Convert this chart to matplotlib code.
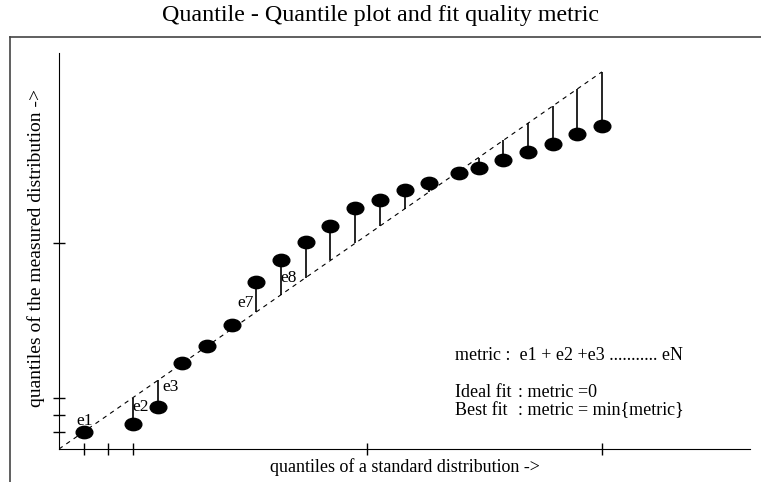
import matplotlib
matplotlib.use("Agg")
import matplotlib.pyplot as plt
from matplotlib.path import Path
from matplotlib.lines import Line2D

plt.rcParams["font.family"] = ["Liberation Serif", "DejaVu Serif"]

# quantiles of the standard distribution (x) and the measured one (y)
std_q = [1, 3, 4, 5, 6, 7, 8, 9, 10, 11, 12, 13, 14, 15, 16.2, 17, 18, 19, 20, 21, 22]
meas_q = [1.0, 1.46, 2.45, 5.0, 6.0, 7.25, 9.74, 11.03, 12.08, 13.01, 14.06, 14.53,
          15.11, 15.52, 16.1, 16.39, 16.86, 17.33, 17.79, 18.38, 18.84]

# error labels and where they sit
err_labels = ["e1", "e2", "e3", "e7", "e8"]
err_x = [1.05, 3.32, 4.54, 7.54, 9.32]
err_y = [1.63, 2.45, 3.62, 8.5, 10.0]

x_ticks = [1, 2, 3, 12.5, 22]
y_ticks = [1, 2, 3, 12]

fig = plt.figure(figsize=(7.61, 4.82), dpi=100)
ax = fig.add_axes([59 / 761, 33 / 482, 691 / 761, 396 / 482])

# ideal line y = x
ax.plot([0, 22], [0, 22], color="black", lw=0.8, dashes=(4, 4))

# stems from the point to the ideal line
ax.vlines(std_q, meas_q, std_q, color="black", lw=1.2)

# elliptical markers
circ = Path.unit_circle()
ell = Path(circ.vertices * [1.35, 1.0], circ.codes)
ax.plot(std_q, meas_q, ls="none", marker=ell, markersize=12,
        color="black", zorder=3)

for lab, x, y in zip(err_labels, err_x, err_y):
    ax.text(x, y, lab, fontsize=12.5, ha="center", va="center")

ax.set_xlim(0, 28)
ax.set_ylim(0, 23.1)
ax.set_xticks(x_ticks)
ax.set_yticks(y_ticks)
ax.set_xticklabels([])
ax.set_yticklabels([])
ax.tick_params(direction="inout", length=8, width=1)
for s in ["top", "right"]:
    ax.spines[s].set_visible(False)

fig.text(405 / 761, 1 - 467 / 482, "quantiles of a standard distribution ->",
         fontsize=13, ha="center", va="center")
fig.text(36 / 761, 1 - 248 / 482, "quantiles of the measured distribution ->",
         fontsize=14, ha="center", va="center", rotation=90)
fig.text(381 / 761, 1 - 15 / 482, "Quantile - Quantile plot and fit quality metric",
         fontsize=17.3, ha="center", va="center")

fs = 13
ax.text(16.04, 5.45, "metric :  e1 + e2 +e3 ........... eN", fontsize=fs, va="center")
ax.text(16.04, 3.32, "Ideal fit", fontsize=fs, va="center")
ax.text(18.6, 3.32, ": metric =0", fontsize=fs, va="center")
ax.text(16.04, 2.27, "Best fit", fontsize=fs, va="center")
ax.text(18.6, 2.27, ": metric = min{metric}", fontsize=fs, va="center")

# partial outer frame
fig.add_artist(Line2D([10 / 761, 10 / 761], [0, 1 - 37 / 482], color="#444444", lw=1.2))
fig.add_artist(Line2D([10 / 761, 1], [1 - 37 / 482, 1 - 37 / 482], color="#444444", lw=1.2))

fig.savefig("out.png", dpi=100)
